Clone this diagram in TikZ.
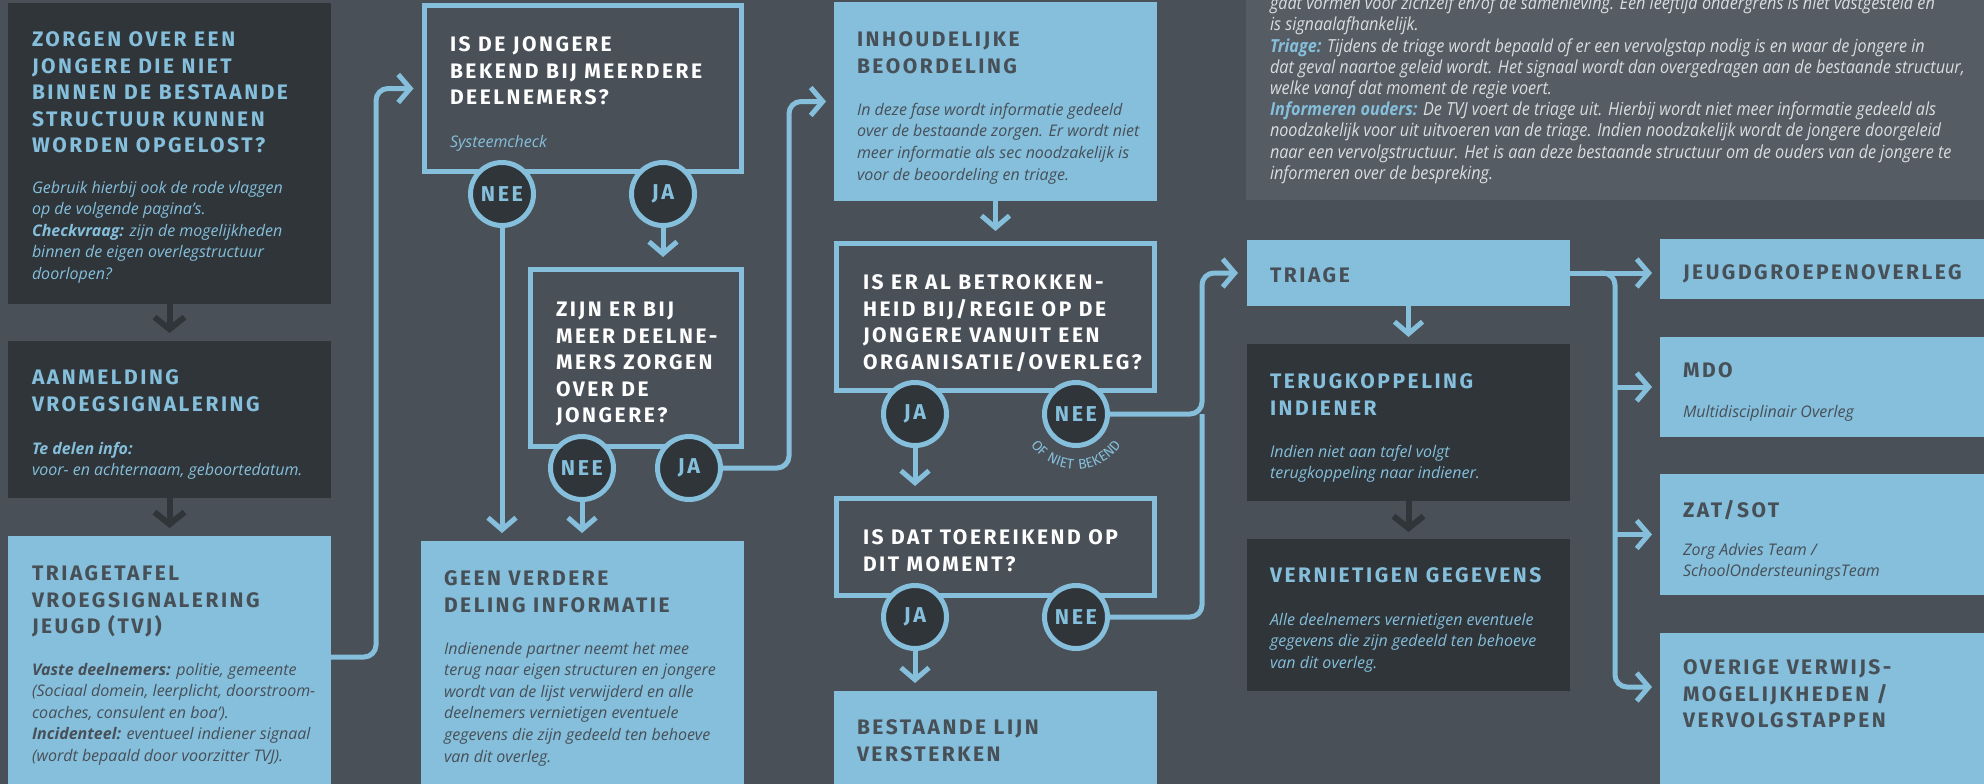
\documentclass[tikz,border=0pt]{standalone}
\usepackage{fontspec}
\setmainfont{Open Sans}
\newfontfamily\hfont[LetterSpace=12]{Fira Sans}
\newfontfamily\ifont{Open Sans}
\newfontfamily\cfont[FakeStretch=0.9]{Open Sans}
\usetikzlibrary{arrows.meta,decorations.text,calc}
\definecolor{bgc}{HTML}{4A5057}
\definecolor{panelc}{HTML}{555C63}
\definecolor{dboxc}{HTML}{2F3539}
\definecolor{lbc}{HTML}{85BFDC}
\definecolor{dtc}{HTML}{474F57}
\definecolor{ptc}{HTML}{DADDE0}
\newcommand{\TTf}{\hfont\bfseries\fontsize{21}{26.5}\selectfont}
\newcommand{\BTf}{\ifont\itshape\fontsize{16}{21.6}\selectfont}
\newcommand{\CTf}{\hfont\bfseries\fontsize{21.5}{21.5}\selectfont}
\newcommand{\PTf}{\cfont\itshape\fontsize{18}{21.2}\selectfont}
\begin{document}
\begin{tikzpicture}[x=1pt,y=-1pt,
  every node/.style={inner sep=0pt,outer sep=0pt},
  dbox/.style={fill=dboxc,anchor=north west},
  lbox/.style={fill=lbc,anchor=north west},
  obox/.style={draw=lbc,line width=5pt,anchor=north west},
  tt/.style={anchor=north west,align=left,font=\TTf},
  bt/.style={anchor=north west,align=left,font=\BTf},
  circ/.style={circle,draw=lbc,line width=5pt,fill=dboxc,minimum size=63pt,font=\CTf,text=lbc},
  conn/.style={draw=lbc,line width=5pt,rounded corners=12pt},
  arr/.style={conn,-{Straight Barb[length=12pt,width=28pt]}},
  darr/.style={draw=dboxc,line width=6pt,-{Straight Barb[length=12pt,width=30pt]}},
]
\fill[bgc] (0,0) rectangle (1984,784);
\useasboundingbox (0,0) rectangle (1984,784);
\fill[panelc] (1246,-10) rectangle (1994,200);

% boxes
\node[dbox,minimum width=323pt,minimum height=301pt] (b1) at (8,3) {};
\node[dbox,minimum width=323pt,minimum height=157pt] (b2) at (8,341) {};
\node[lbox,minimum width=323pt,minimum height=264pt] (b3) at (8,536) {};
\node[obox,minimum width=317pt,minimum height=166pt] (b4) at (424.5,5.5) {};
\node[obox,minimum width=211pt,minimum height=177pt] (b5) at (530.5,269.5) {};
\node[lbox,minimum width=323pt,minimum height=259pt] (b6) at (421,541) {};
\node[lbox,minimum width=323pt,minimum height=199pt] (b7) at (834,2) {};
\node[obox,minimum width=318pt,minimum height=147pt] (b8) at (836.5,243.5) {};
\node[obox,minimum width=318pt,minimum height=97pt] (b9) at (836.5,498.5) {};
\node[lbox,minimum width=323pt,minimum height=109pt] (b10) at (834,691) {};
\node[lbox,minimum width=323pt,minimum height=66pt] (tri) at (1247,240) {};
\node[dbox,minimum width=323pt,minimum height=157pt] (ter) at (1247,344) {};
\node[dbox,minimum width=323pt,minimum height=152pt] (ver) at (1247,539) {};
\node[lbox,minimum width=330pt,minimum height=60pt] (jeu) at (1660,239) {};
\node[lbox,minimum width=330pt,minimum height=100pt] (mdo) at (1660,337) {};
\node[lbox,minimum width=330pt,minimum height=121pt] (zat) at (1660,474) {};
\node[lbox,minimum width=330pt,minimum height=167pt] (ove) at (1660,633) {};

% circles
\node[circ] (c4n) at (502,194) {NEE};
\node[circ] (c4j) at (663,194) {JA};
\node[circ] (c5n) at (582,468) {NEE};
\node[circ] (c5j) at (689,468) {JA};
\node[circ] (c8j) at (915,414) {JA};
\node[circ] (c8n) at (1076,414) {NEE};
\node[circ] (c9j) at (915,617) {JA};
\node[circ] (c9n) at (1076,617) {NEE};

% connectors
\draw[darr] (b1.south) -- ([yshift=8pt]b2.north);
\draw[darr] (b2.south) -- ([yshift=8pt]b3.north);
\draw[arr] ([yshift=-121pt]b3.north east) -| ([xshift=-48.5pt]b4.west) -- ([xshift=-11pt]b4.west);
\draw[arr,shorten >=8pt] (c4n.south) -- (c4n.south |- b6.north);
\draw[arr,shorten >=12.5pt] (c4j.south) -- (c4j.south |- b5.north);
\draw[arr,shorten >=8pt] (c5n.south) -- (c5n.south |- b6.north);
\draw[arr] (c5j.east) -| ([xshift=-45pt]b7.west) -- ([xshift=-8pt]b7.west);
\draw[arr,shorten >=12.5pt] (b7.south) -- (b8.north);
\draw[arr,shorten >=12.5pt] (c8j.south) -- (c8j.south |- b9.north);
\draw[arr] (c8n.east) -| ([xshift=-45pt]tri.west) -- ([xshift=-9pt]tri.west);
\draw[conn] (c9n.east) -| ([xshift=-45pt]tri.west |- c8n.east);
\draw[arr,shorten >=8pt] (c9j.south) -- (c9j.south |- b10.north);
\draw[arr,shorten >=7pt] (tri.south) -- (ter.north);
\draw[darr,shorten >=7pt] (ter.south) -- (ver.north);
\draw[arr,shorten >=8pt] (tri.east) -- (tri.east -| jeu.west);
\draw[arr,shorten >=8pt] ([xshift=30pt]tri.east) -| ([yshift=-54pt,xshift=-45pt]ove.north west) -- ([yshift=-54pt]ove.north west);
\draw[arr,shorten >=8pt] ([xshift=-45pt]mdo.west) -- (mdo.west);
\draw[arr,shorten >=8pt] ([xshift=-45pt]zat.west) -- (zat.west);

% arc label
\path[decorate,decoration={text along path,text align=center,text color=lbc,text={|\hfont\fontsize{14}{14}\selectfont|OF NIET BEKEND}}] (1028.4,441.5) arc[start angle=150,end angle=30,radius=55];

% texts
\node[tt,text=lbc] (t1) at (32,32) {ZORGEN OVER EEN\\JONGERE DIE NIET\\BINNEN DE BESTAANDE\\STRUCTUUR KUNNEN\\WORDEN OPGELOST?};
\node[bt,text=lbc] (d1) at (32,181) {Gebruik hierbij ook de rode vlaggen\\op de volgende pagina’s.\\\textbf{Checkvraag:} zijn de mogelijkheden\\binnen de eigen overlegstructuur\\doorlopen?};
\node[tt,text=lbc] (t2) at (32,370) {AANMELDING\\VROEGSIGNALERING};
\node[bt,text=lbc] (d2) at (32,442) {\textbf{Te delen info:}\\voor- en achternaam, geboortedatum.};
\node[tt,text=dtc] (t3) at (32,566) {TRIAGETAFEL\\VROEGSIGNALERING\\JEUGD (TVJ)};
\node[bt,text=dtc] (d3) at (32,663) {\textbf{Vaste deelnemers:} politie, gemeente\\(Sociaal domein, leerplicht, doorstroom-\\coaches, consulent en boa’).\\\textbf{Incidenteel:} eventueel indiener signaal\\(wordt bepaald door voorzitter TVJ).};
\node[tt,text=white] (t4) at (450,37) {IS DE JONGERE\\BEKEND BIJ MEERDERE\\DEELNEMERS?};
\node[bt,text=lbc] (d4) at (450,135) {Systeemcheck};
\node[tt,text=white] (t5) at (556,302) {ZIJN ER BIJ\\MEER DEELNE-\\MERS ZORGEN\\OVER DE\\JONGERE?};
\node[tt,text=dtc] (t6) at (444,571) {GEEN VERDERE\\DELING INFORMATIE};
\node[bt,text=dtc] (d6) at (444,642) {Indienende partner neemt het mee\\terug naar eigen structuren en jongere\\wordt van de lijst verwijderd en alle\\deelnemers vernietigen eventuele\\gegevens die zijn gedeeld ten behoeve\\van dit overleg.};
\node[tt,text=dtc] (t7) at (857,32) {INHOUDELIJKE\\BEOORDELING};
\node[bt,text=dtc] (d7) at (857,103) {In deze fase wordt informatie gedeeld\\over de bestaande zorgen. Er wordt niet\\meer informatie als sec noodzakelijk is\\voor de beoordeling en triage.};
\node[tt,text=white] (t8) at (863,275) {IS ER AL BETROKKEN-\\HEID BIJ/REGIE OP DE\\JONGERE VANUIT EEN\\ORGANISATIE/OVERLEG?};
\node[tt,text=white] (t9) at (863,530) {IS DAT TOEREIKEND OP\\DIT MOMENT?};
\node[tt,text=dtc] (t10) at (857,720) {BESTAANDE LIJN\\VERSTERKEN};
\node[tt,text=dtc] (t11) at (1270,268) {TRIAGE};
\node[tt,text=lbc] (t12) at (1270,374) {TERUGKOPPELING\\INDIENER};
\node[bt,text=lbc] (d12) at (1270,445) {Indien niet aan tafel volgt\\terugkoppeling naar indiener.};
\node[tt,text=lbc] (t13) at (1270,568) {VERNIETIGEN GEGEVENS};
\node[bt,text=lbc] (d13) at (1270,613) {Alle deelnemers vernietigen eventuele\\gegevens die zijn gedeeld ten behoeve\\van dit overleg.};
\node[tt,text=dtc] (t14) at (1683,265) {JEUGDGROEPENOVERLEG};
\node[tt,text=dtc] (t15) at (1683,363) {MDO};
\node[bt,text=dtc] (d15) at (1683,405) {Multidisciplinair Overleg};
\node[tt,text=dtc] (t16) at (1683,500) {ZAT/SOT};
\node[bt,text=dtc] (d16) at (1683,543) {Zorg Advies Team /\\SchoolOndersteuningsTeam};
\node[tt,text=dtc] (t17) at (1683,660) {OVERIGE VERWIJS-\\MOGELIJKHEDEN /\\VERVOLGSTAPPEN};

\node[anchor=north west,align=left,font=\PTf,text=ptc] (info) at (1270,-4) {gaat vormen voor zichzelf en/of de samenleving. Een leeftijd ondergrens is niet vastgesteld en\\is signaalafhankelijk.\\{\color{lbc}\textbf{Triage:}} Tijdens de triage wordt bepaald of er een vervolgstap nodig is en waar de jongere in\\dat geval naartoe geleid wordt. Het signaal wordt dan overgedragen aan de bestaande structuur,\\welke vanaf dat moment de regie voert.\\{\color{lbc}\textbf{Informeren ouders:}} De TVJ voert de triage uit. Hierbij wordt niet meer informatie gedeeld als\\noodzakelijk voor uit uitvoeren van de triage. Indien noodzakelijk wordt de jongere doorgeleid\\naar een vervolgstructuur. Het is aan deze bestaande structuur om de ouders van de jongere te\\informeren over de bespreking.};
\end{tikzpicture}
\end{document}
